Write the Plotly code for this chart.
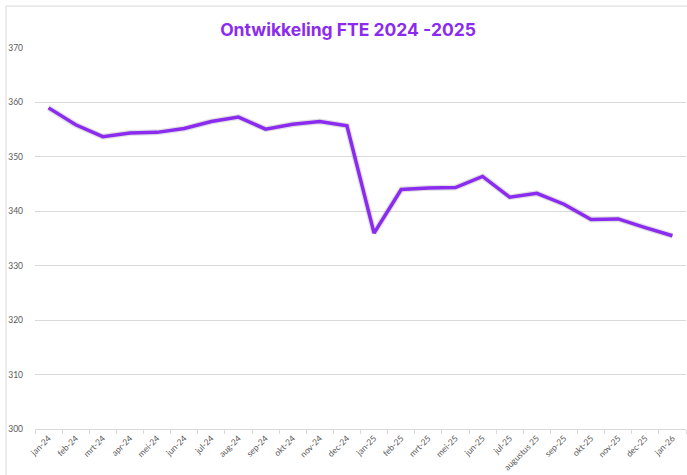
import plotly.graph_objects as go

months = ["jan-24", "feb-24", "mrt-24", "apr-24", "mei-24", "jun-24", "jul-24", "aug-24",
          "sep-24", "okt-24", "nov-24", "dec-24", "jan-25", "feb-25", "mrt-25", "mei-25",
          "jun-25", "jul-25", "augustus 25", "sep-25", "okt-25", "nov-25", "dec-25", "jan-26"]
fte = [359.0, 355.9, 353.7, 354.4, 354.5, 355.2, 356.5, 357.3,
       355.1, 356.0, 356.5, 355.7, 336.0, 344.0, 344.3, 344.35,
       346.4, 342.6, 343.3, 341.3, 338.5, 338.6, 337.0, 335.5]
y_ticks = [300, 310, 320, 330, 340, 350, 360, 370]

purple = "#8C2BF0"
grid = "#d9d9d9"
label_color = "#595959"

fig = go.Figure()
fig.add_trace(go.Scatter(x=months, y=fte, mode="lines",
                         line=dict(color="rgba(0,0,0,0.12)", width=6),
                         hoverinfo="skip", showlegend=False))
fig.add_trace(go.Scatter(x=months, y=fte, mode="lines",
                         line=dict(color=purple, width=3.5),
                         showlegend=False, name="FTE"))

fig.update_layout(
    width=687, height=475,
    margin=dict(l=35, r=1, t=48, b=46, autoexpand=False),
    paper_bgcolor="white", plot_bgcolor="white",
    title=dict(text="<b>Ontwikkeling FTE 2024 -2025</b>", x=0.5066, xanchor="center",
               y=0.937, yanchor="middle", yref="container", xref="container",
               font=dict(family="Inter, Lato, sans-serif", size=17.5, color=purple),
               automargin=False),
    xaxis=dict(type="category", tickangle=-45, tickson="boundaries", ticks="outside",
               ticklen=4, tickcolor=grid, showline=True, linecolor=grid, linewidth=1,
               showgrid=False, automargin=False,
               tickfont=dict(family="Lato, sans-serif", size=8.5, color=label_color),
               range=[-0.5, len(months) - 0.5]),
    yaxis=dict(range=[300, 370], tickvals=y_ticks, showgrid=True, gridcolor=grid,
               gridwidth=1, zeroline=False, showline=False, ticks="", automargin=False,
               tickfont=dict(family="Lato, sans-serif", size=8.5, color=label_color),
               ticklabelstandoff=11),
    shapes=[
        dict(type="line", xref="paper", yref="paper", x0=-0.0445, x1=1.01, y0=1.11, y1=1.11,
             line=dict(color=grid, width=1)),
        dict(type="line", xref="paper", yref="paper", x0=-0.0445, x1=-0.0445, y0=1.11, y1=-0.2,
             line=dict(color=grid, width=1)),
    ],
)

fig.write_html("out.html", config={"displayModeBar": False},
               post_script="document.body.style.margin='0';document.body.style.overflow='hidden';")
